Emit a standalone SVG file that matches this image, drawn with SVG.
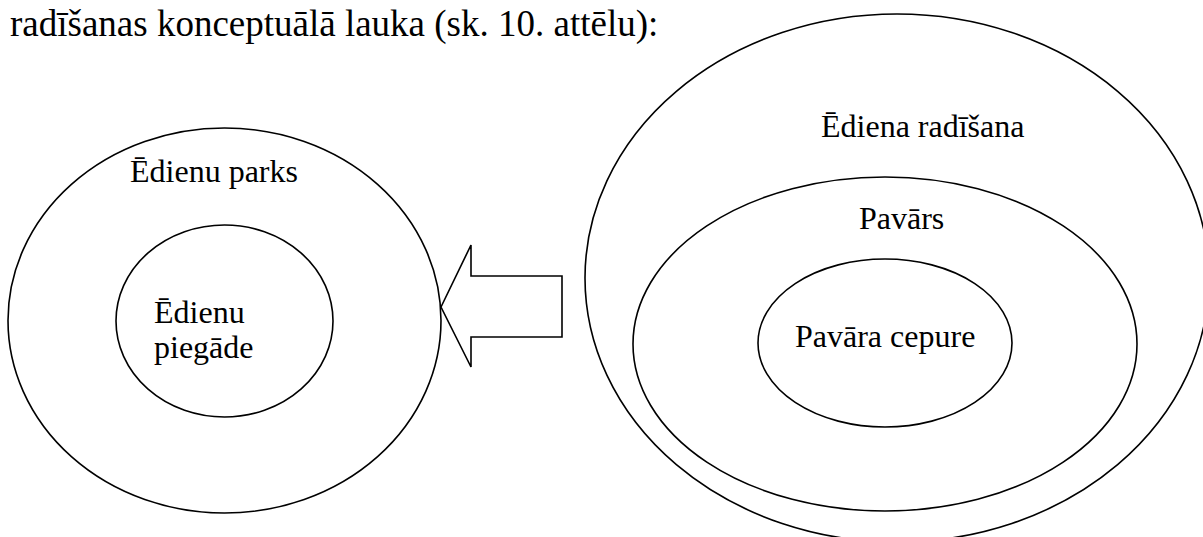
<svg xmlns="http://www.w3.org/2000/svg" width="1203" height="537" viewBox="0 0 1203 537">
<style>
.sh{fill:none;stroke:#000;stroke-width:1.6}
.t{font-family:'Liberation Serif',Tinos,'DejaVu Serif',serif;font-size:32px;fill:#000}
.top{font-family:'Liberation Serif',Tinos,'DejaVu Serif',serif;font-size:37px;fill:#000}
</style>
<rect width="1203" height="537" fill="#fff"/>
<text class="top" x="10" y="36">radīšanas konceptuālā lauka (sk. 10. attēlu):</text>
<g id="edienu-parks">
<ellipse class="sh" cx="224.5" cy="320.5" rx="216.5" ry="192.5"/>
<text class="t" x="130" y="182">Ēdienu parks</text>
</g>
<g id="edienu-piegade">
<ellipse class="sh" cx="224.5" cy="321" rx="108.5" ry="96"/>
<text class="t" x="154" y="323">Ēdienu</text>
<text class="t" x="154" y="358">piegāde</text>
</g>
<g id="ediena-radisana">
<ellipse class="sh" cx="897" cy="278" rx="312" ry="264"/>
<text class="t" x="821" y="137">Ēdiena radīšana</text>
</g>
<g id="pavars">
<ellipse class="sh" cx="885" cy="344" rx="252" ry="167"/>
<text class="t" x="859" y="229">Pavārs</text>
</g>
<g id="pavara-cepure">
<ellipse class="sh" cx="885" cy="343" rx="127" ry="84"/>
<text class="t" x="795" y="347">Pavāra cepure</text>
</g>
<g id="connectors">
<polygon class="sh" points="441,307 471,245 471,276 562,276 562,337 471,337 471,367"/>
</g>
</svg>
